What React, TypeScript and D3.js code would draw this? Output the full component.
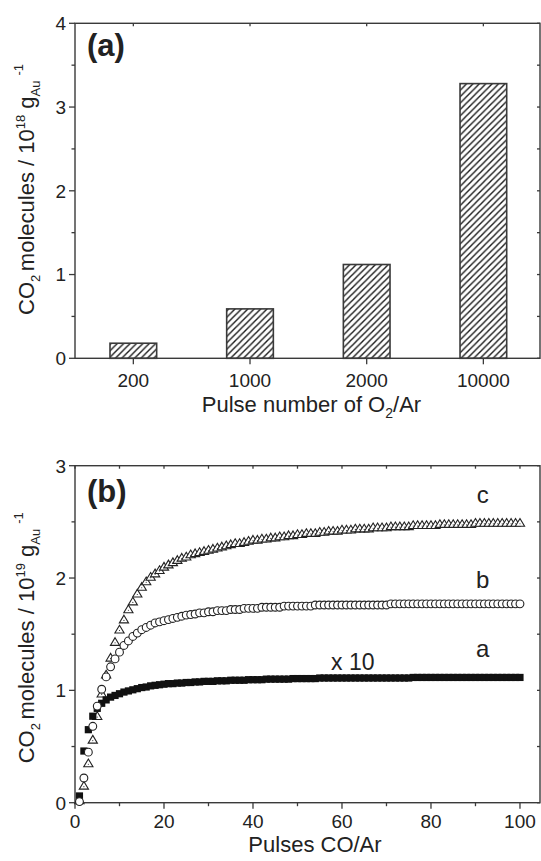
import React from "react";
import * as d3 from "d3";

const W = 541;
const H = 861;
const FONT = "'Liberation Sans', Arial, Helvetica, sans-serif";
const INK = "#222";
const AXIS = "#3a3a3a";

// (a) CO2 formed vs number of O2/Ar pre-treatment pulses
const pulseCounts = ["200", "1000", "2000", "10000"];
const co2Amount = [0.18, 0.59, 1.12, 3.28];
const barYTicks = [0, 1, 2, 3, 4];
const barYMinor = [0.5, 1.5, 2.5, 3.5];

// (b) cumulative CO2 over successive CO/Ar pulses
const coPulses = Array.from({ length: 100 }, (_, i) => i + 1);
// curve a is plotted x 10
const curveA = [
  0.06, 0.46, 0.65, 0.77, 0.84, 0.885, 0.915, 0.94, 0.955, 0.97,
  0.985, 0.995, 1.005, 1.015, 1.025, 1.03, 1.04, 1.045, 1.05, 1.055,
  1.06, 1.06, 1.065, 1.065, 1.07, 1.07, 1.075, 1.075, 1.08, 1.08,
  1.08, 1.085, 1.085, 1.085, 1.09, 1.09, 1.09, 1.09, 1.095, 1.095,
  1.095, 1.095, 1.1, 1.1, 1.1, 1.1, 1.1, 1.1, 1.105, 1.105,
  1.105, 1.105, 1.105, 1.105, 1.11, 1.11, 1.11, 1.11, 1.11, 1.11,
  1.11, 1.11, 1.11, 1.11, 1.11, 1.11, 1.11, 1.11, 1.11, 1.11,
  1.11, 1.11, 1.11, 1.11, 1.11, 1.115, 1.115, 1.115, 1.115, 1.115,
  1.115, 1.115, 1.115, 1.115, 1.115, 1.115, 1.115, 1.115, 1.115, 1.115,
  1.115, 1.115, 1.115, 1.115, 1.115, 1.115, 1.115, 1.115, 1.115, 1.115,
];
const curveB = [
  0.01, 0.22, 0.45, 0.68, 0.86, 1.01, 1.12, 1.21, 1.28, 1.34,
  1.4, 1.44, 1.48, 1.51, 1.54, 1.56, 1.58, 1.6, 1.61, 1.62,
  1.63, 1.64, 1.65, 1.66, 1.67, 1.675, 1.68, 1.69, 1.69, 1.7,
  1.7, 1.71, 1.71, 1.71, 1.72, 1.72, 1.72, 1.73, 1.73, 1.73,
  1.73, 1.74, 1.74, 1.74, 1.74, 1.74, 1.75, 1.75, 1.75, 1.75,
  1.75, 1.75, 1.75, 1.76, 1.76, 1.76, 1.76, 1.76, 1.76, 1.76,
  1.76, 1.76, 1.76, 1.76, 1.76, 1.76, 1.76, 1.76, 1.76, 1.76,
  1.77, 1.77, 1.77, 1.77, 1.77, 1.77, 1.77, 1.77, 1.77, 1.77,
  1.77, 1.77, 1.77, 1.77, 1.77, 1.77, 1.77, 1.77, 1.77, 1.77,
  1.77, 1.77, 1.77, 1.77, 1.77, 1.77, 1.77, 1.77, 1.77, 1.77,
];
const curveC = [
  0.02, 0.15, 0.35, 0.56, 0.77, 0.97, 1.14, 1.29, 1.43, 1.54,
  1.63, 1.72, 1.79, 1.86, 1.92, 1.97, 2.01, 2.04, 2.07, 2.1,
  2.12, 2.14, 2.16, 2.18, 2.19, 2.21, 2.22, 2.23, 2.24, 2.25,
  2.26, 2.27, 2.28, 2.29, 2.3, 2.31, 2.31, 2.32, 2.33, 2.34,
  2.34, 2.35, 2.35, 2.36, 2.36, 2.37, 2.37, 2.38, 2.38, 2.39,
  2.39, 2.4, 2.4, 2.4, 2.41, 2.41, 2.42, 2.42, 2.42, 2.43,
  2.43, 2.43, 2.44, 2.44, 2.44, 2.44, 2.45, 2.45, 2.45, 2.45,
  2.46, 2.46, 2.46, 2.46, 2.46, 2.47, 2.47, 2.47, 2.47, 2.47,
  2.47, 2.48, 2.48, 2.48, 2.48, 2.48, 2.48, 2.48, 2.48, 2.49,
  2.49, 2.49, 2.49, 2.49, 2.49, 2.49, 2.49, 2.49, 2.49, 2.49,
];
const lineYTicks = [0, 1, 2, 3];
const lineYMinor = [0.5, 1.5, 2.5];
const lineXTicks = [0, 20, 40, 60, 80, 100];
const lineXMinor = [10, 30, 50, 70, 90];

const frameA = { left: 75, right: 540, top: 23.3, bottom: 358.3 };
const frameB = { left: 75, right: 540, top: 465.7, bottom: 802.7 };

const xBand = d3
  .scaleBand<string>()
  .domain(pulseCounts)
  .range([frameA.left, 541.7])
  .paddingInner(0.6)
  .paddingOuter(0.3);
const yA = d3.scaleLinear().domain([0, 4]).range([frameA.bottom, frameA.top]);
const xB = d3.scaleLinear().domain([0, 104.5]).range([frameB.left, frameB.right]);
const yB = d3.scaleLinear().domain([0, 3]).range([frameB.bottom, frameB.top]);

const TICK_FS = 19;
const TITLE_FS = 22;

function Frame({ f }: { f: typeof frameA }) {
  return (
    <rect
      x={f.left}
      y={f.top}
      width={f.right - f.left}
      height={f.bottom - f.top}
      fill="none"
      stroke={AXIS}
      strokeWidth={1.4}
    />
  );
}

function YAxis({ f, scale, major, minor }: { f: typeof frameA; scale: d3.ScaleLinear<number, number>; major: number[]; minor: number[] }) {
  return (
    <g stroke={AXIS} strokeWidth={1.3}>
      {major.map((v) => (
        <g key={"M" + v}>
          <line x1={f.left - 6} x2={f.left} y1={scale(v)} y2={scale(v)} />
          <line x1={f.right - 3} x2={f.right} y1={scale(v)} y2={scale(v)} />
          <text
            x={f.left - 9}
            y={scale(v)}
            dy="0.36em"
            textAnchor="end"
            fontSize={TICK_FS}
            fontFamily={FONT}
            fill={INK}
            stroke="none"
          >
            {v}
          </text>
        </g>
      ))}
      {minor.map((v) => (
        <g key={"m" + v}>
          <line x1={f.left - 3.5} x2={f.left} y1={scale(v)} y2={scale(v)} />
          <line x1={f.right - 3} x2={f.right} y1={scale(v)} y2={scale(v)} />
        </g>
      ))}
    </g>
  );
}

// rotated axis title; starts at (x, y) and reads upward
function YTitle({ x, y, exp }: { x: number; y: number; exp: string }) {
  return (
    <text
      transform={`translate(${x},${y}) rotate(-90)`}
      fontSize={22}
      fontFamily={FONT}
      fill={INK}
    >
      <tspan>CO</tspan>
      <tspan fontSize={13} dy={6}>2 </tspan>
      <tspan dy={-6}>molecules / 10</tspan>
      <tspan fontSize={13} dy={-9}>{exp}</tspan>
      <tspan dy={9}> g</tspan>
      <tspan fontSize={13} dy={6}>Au</tspan>
      <tspan fontSize={13} dy={-17} dx={5}>-1</tspan>
    </text>
  );
}

export default function App() {
  const triangle = (cx: number, cy: number) =>
    `M${cx},${cy - 4.4}L${cx + 4.6},${cy + 3.3}L${cx - 4.6},${cy + 3.3}Z`;

  return (
    <svg
      width={W}
      height={H}
      viewBox={`0 0 ${W} ${H}`}
      style={{ position: "absolute", left: 0, top: 0, background: "#fff" }}
    >
      <defs>
        <pattern id="hatch" patternUnits="userSpaceOnUse" width={6.4} height={6.4}>
          <path
            d="M-1,1 l2,-2 M0,6.4 l6.4,-6.4 M5.4,7.4 l2,-2"
            stroke="#1a1a1a"
            strokeWidth={1.4}
          />
        </pattern>
      </defs>
      <rect width={W} height={H} fill="#fff" />

      {/* ---------- panel (a) ---------- */}
      {pulseCounts.map((c, i) => (
        <rect
          key={c}
          x={xBand(c)}
          y={yA(co2Amount[i])}
          width={xBand.bandwidth()}
          height={yA(0) - yA(co2Amount[i])}
          fill="url(#hatch)"
          stroke={AXIS}
          strokeWidth={1.6}
        />
      ))}
      <Frame f={frameA} />
      <YAxis f={frameA} scale={yA} major={barYTicks} minor={barYMinor} />
      <g stroke={AXIS} strokeWidth={1.3}>
        {pulseCounts.map((c) => {
          const cx = (xBand(c) as number) + xBand.bandwidth() / 2;
          return (
            <g key={c}>
              <line x1={cx} x2={cx} y1={frameA.bottom} y2={frameA.bottom + 6} />
              <line x1={cx} x2={cx} y1={frameA.top} y2={frameA.top + 3} />
              <text
                x={cx}
                y={frameA.bottom + 28.5}
                textAnchor="middle"
                fontSize={TICK_FS}
                fontFamily={FONT}
                fill={INK}
                stroke="none"
              >
                {c}
              </text>
            </g>
          );
        })}
      </g>
      <text x={311.5} y={411.5} textAnchor="middle" fontSize={TITLE_FS} fontFamily={FONT} fill={INK}>
        <tspan>Pulse number of O</tspan>
        <tspan fontSize={14} dy={6}>2</tspan>
        <tspan dy={-6}>/Ar</tspan>
      </text>
      <YTitle x={34} y={315} exp="18" />
      <text x={87} y={55.5} fontSize={31} fontWeight="bold" fontFamily={FONT} fill={INK}>
        (a)
      </text>

      {/* ---------- panel (b) ---------- */}
      <Frame f={frameB} />
      <YAxis f={frameB} scale={yB} major={lineYTicks} minor={lineYMinor} />
      <g stroke={AXIS} strokeWidth={1.3}>
        {lineXTicks.map((v) => (
          <g key={"M" + v}>
            <line x1={xB(v)} x2={xB(v)} y1={frameB.bottom} y2={frameB.bottom + 6} />
            <line x1={xB(v)} x2={xB(v)} y1={frameB.top} y2={frameB.top + 3} />
            <text
              x={xB(v)}
              y={frameB.bottom + 25}
              textAnchor="middle"
              fontSize={TICK_FS}
              fontFamily={FONT}
              fill={INK}
              stroke="none"
            >
              {v}
            </text>
          </g>
        ))}
        {lineXMinor.map((v) => (
          <g key={"m" + v}>
            <line x1={xB(v)} x2={xB(v)} y1={frameB.bottom} y2={frameB.bottom + 3.5} />
            <line x1={xB(v)} x2={xB(v)} y1={frameB.top} y2={frameB.top + 3} />
          </g>
        ))}
      </g>

      {/* series c: open triangles */}
      <g fill="#fff" stroke={INK} strokeWidth={1.1}>
        {coPulses.map((p, i) => (
          <g key={p}>
            <path d={triangle(xB(p), yB(curveC[i]))} />
            <circle cx={xB(p)} cy={yB(curveC[i]) + 0.8} r={0.55} fill={INK} stroke="none" />
          </g>
        ))}
      </g>
      {/* series a: filled squares */}
      <g fill="#111">
        {coPulses.map((p, i) => (
          <rect key={p} x={xB(p) - 3.6} y={yB(curveA[i]) - 3.6} width={7.2} height={7.2} />
        ))}
      </g>
      {/* series b: open circles */}
      <g fill="#fff" stroke={INK} strokeWidth={1.1}>
        {coPulses.map((p, i) => (
          <circle key={p} cx={xB(p)} cy={yB(curveB[i])} r={3.9} />
        ))}
      </g>

      <g fontSize={24} fontFamily={FONT} fill={INK} textAnchor="middle">
        <text x={482.7} y={503.3}>c</text>
        <text x={482.7} y={587.7}>b</text>
        <text x={482.7} y={656.7}>a</text>
      </g>
      <text x={331} y={670} fontSize={23} fontFamily={FONT} fill={INK}>x 10</text>

      <text x={315} y={852} textAnchor="middle" fontSize={TITLE_FS} fontFamily={FONT} fill={INK}>
        Pulses CO/Ar
      </text>
      <YTitle x={34} y={763.3} exp="19" />
      <text x={87} y={501.5} fontSize={31} fontWeight="bold" fontFamily={FONT} fill={INK}>
        (b)
      </text>
    </svg>
  );
}
